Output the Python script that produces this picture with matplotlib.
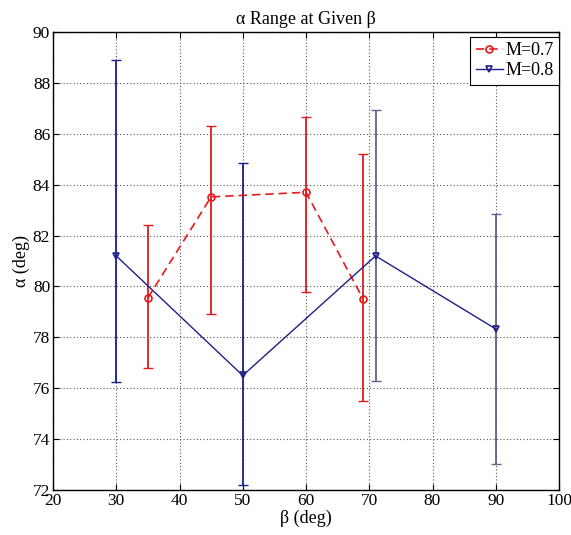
import numpy as np
import matplotlib
matplotlib.use("Agg")
import matplotlib.pyplot as plt

# ---------------------------
# Data
# ---------------------------
beta_m07 = [35, 45, 60, 69]
alpha_m07 = [79.55, 83.52, 83.70, 79.52]
low_m07 = [76.78, 78.92, 79.80, 75.50]
high_m07 = [82.40, 86.30, 86.65, 85.20]

beta_m08 = [30, 50, 71, 90]
alpha_m08 = [81.20, 76.50, 81.20, 78.33]
low_m08 = [76.23, 72.18, 76.30, 73.02]
high_m08 = [88.90, 84.84, 86.92, 82.83]

xticks = [20, 30, 40, 50, 60, 70, 80, 90, 100]
yticks = [72, 74, 76, 78, 80, 82, 84, 86, 88, 90]

RED = "#e41a1c"
NAVY = "#1f1f8a"
SLATE = "#62628a"

plt.rcParams["font.family"] = ["Liberation Serif", "DejaVu Serif"]

fig = plt.figure(figsize=(5.71, 5.35), dpi=100)
ax = fig.add_axes([53 / 571, 45 / 535, 506 / 571, 458 / 535])


def yerr(mid, lo, hi):
    mid = np.asarray(mid)
    return np.vstack([mid - np.asarray(lo), np.asarray(hi) - mid])


# M=0.7 series
ax.errorbar(beta_m07, alpha_m07, yerr=yerr(alpha_m07, low_m07, high_m07),
            fmt="none", ecolor=RED, elinewidth=1.3, capsize=3.5, capthick=1.0, zorder=3)
ax.plot(beta_m07, alpha_m07, color=RED, ls=(0, (5, 3)), lw=1.2, marker="o",
        ms=5, mfc="none", mec=RED, mew=1.2, label="M=0.7", zorder=4)

# M=0.8 series (last two bars look greyer in the original)
err08 = yerr(alpha_m08, low_m08, high_m08)
ax.errorbar(beta_m08[:2], alpha_m08[:2], yerr=err08[:, :2],
            fmt="none", ecolor=NAVY, elinewidth=1.3, capsize=3.5, capthick=1.0, zorder=3)
ax.errorbar(beta_m08[2:], alpha_m08[2:], yerr=err08[:, 2:],
            fmt="none", ecolor=SLATE, elinewidth=1.3, capsize=3.5, capthick=1.0, zorder=3)
ax.plot(beta_m08, alpha_m08, color=NAVY, ls="-", lw=1.0, marker="v",
        ms=5, mfc="none", mec=NAVY, mew=1.2, label="M=0.8", zorder=4)

ax.set_xlim(20, 100)
ax.set_ylim(72, 90)
ax.set_xticks(xticks)
ax.set_yticks(yticks)
ax.tick_params(direction="in", top=True, right=True, length=4, width=0.8,
               labelsize=12.5, pad=2)
ax.grid(True, color="#555555", ls=(0, (1, 2)), lw=0.8)
for s in ax.spines.values():
    s.set_linewidth(1.0)

ax.set_title("α Range at Given β", fontsize=13, pad=6)
ax.set_xlabel("β (deg)", fontsize=13, labelpad=1)
ax.set_ylabel("α (deg)", fontsize=13, labelpad=2)

leg = ax.legend(loc="upper right", bbox_to_anchor=(1.0, 1 - 5 / 458),
                fontsize=13, fancybox=False, framealpha=1,
                edgecolor="black", borderpad=0.3, labelspacing=0.15,
                handlelength=1.5, handletextpad=0.15, borderaxespad=0.0)
leg.get_frame().set_linewidth(0.8)

fig.savefig("out.png", dpi=100)
